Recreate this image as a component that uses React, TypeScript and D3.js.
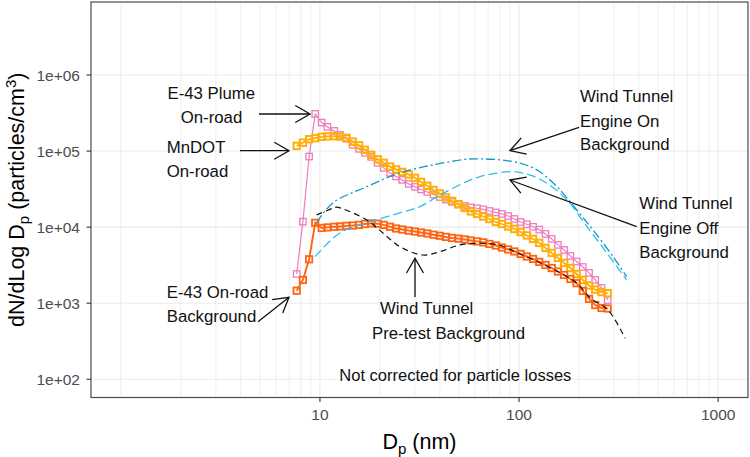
import React from 'react';
import * as d3 from 'd3';

// ---------- data ----------
const diameters = [7.64, 8.21, 8.82, 9.47, 10.2, 10.9, 11.8, 12.6, 13.6, 14.6, 15.7, 16.8, 18.1, 19.5, 20.9, 22.5, 24.1, 25.9, 27.9, 30.0, 32.2, 34.6, 37.2, 40.0, 42.9, 46.1, 49.6, 53.3, 57.3, 61.5, 66.1, 71.0, 76.4, 82.0, 88.2, 94.7, 101.8, 109.4, 117.6, 126.3, 135.8, 145.9, 156.8, 168.5, 181.1, 194.6, 209.1, 224.7, 241.4, 259.5, 278.8];

const plumeOnRoad = [2420, 11800, 84700, 308000, 237000, 208000, 184000, 163000, 145000, 121000, 107000, 94700, 83900, 70000, 60100, 51600, 46400, 41800, 37000, 33800, 31300, 29000, 26900, 24900, 23000, 21500, 20200, 19000, 18200, 17700, 17100, 16300, 15600, 14900, 14000, 12800, 11700, 10900, 10100, 9270, 8140, 7000, 5840, 5010, 4180, 3540, 2990, 2500, 2020, 1590, 1100];

const mndotOnRoad = [117000, 129000, 143000, 148000, 154000, 156000, 157000, 155000, 149000, 133000, 119000, 104000, 89100, 77800, 70000, 62500, 57400, 53200, 49300, 44400, 39300, 34900, 30800, 27700, 24600, 22100, 19900, 17900, 16100, 14900, 13800, 12800, 11700, 11000, 10200, 9460, 8640, 7780, 7000, 6200, 5330, 4580, 3930, 3380, 2900, 2420, 2020, 1710, 1510, 1400, 1350];

const e43Background = [1460, 2020, 3780, 11400, 9750, 9910, 10100, 10200, 10400, 10500, 10700, 11000, 11200, 11100, 10700, 10100, 9600, 9300, 9000, 8750, 8500, 8250, 7950, 7700, 7430, 7210, 7060, 6890, 6680, 6490, 6300, 6010, 5740, 5400, 5090, 4790, 4440, 4110, 3820, 3490, 3180, 2900, 2610, 2350, 2080, 1830, 1450, 1140, 946, 865, 852];

const engineOnD = [9.62, 11.6, 17.2, 25.2, 37.0, 54.6, 63.7, 80.3, 101, 123, 155, 195, 235, 297, 347];
const engineOnV = [11400, 20800, 34100, 51600, 65800, 78200, 79000, 76600, 69300, 56600, 34100, 16800, 9180, 4090, 2230];

const engineOffD = [9.44, 12.6, 17.2, 25.2, 31.8, 40.1, 54.6, 63.7, 77.2, 93.3, 113, 138, 174, 219, 276, 347];
const engineOffV = [4090, 8390, 11400, 15400, 18600, 26500, 39700, 46200, 51200, 53700, 48600, 37800, 22800, 10200, 4580, 2020];

const pretestD = [9.62, 11.6, 12.1, 17.2, 20.7, 25.2, 32.9, 40.1, 50.5, 63.7, 78.4, 101, 128, 161, 195, 228, 280, 341];
const pretestV = [14500, 17700, 18300, 12400, 8390, 5530, 4300, 4760, 5840, 6140, 5840, 4440, 3380, 2500, 1840, 1170, 814, 345];

const xTicks = [10, 100, 1000];
const xTickLabels = ['10', '100', '1000'];
const yTicks = [1e2, 1e3, 1e4, 1e5, 1e6];
const yTickLabels = ['1e+02', '1e+03', '1e+04', '1e+05', '1e+06'];

const FONT = "'Liberation Sans', Arial, Helvetica, sans-serif";

export default function App() {
  const W = 750, H = 457;
  const left = 91, right = 748, top = 2, bottom = 397.5;
  const x = d3.scaleLog().domain([Math.pow(10, -0.15), Math.pow(10, 3.15)]).range([left, right]);
  const y = d3.scaleLog().domain([Math.pow(10, 1.76), Math.pow(10, 6.96)]).range([bottom, top]);

  const minorX = x.ticks().filter((t) => t >= 1 && t <= 1000);

  const lineGen = d3.line<[number, number]>().x((d) => x(d[0])).y((d) => y(d[1]));
  const smoothGen = d3
    .line<[number, number]>()
    .x((d) => x(d[0]))
    .y((d) => y(d[1]))
    .curve(d3.curveCatmullRom.alpha(0.5));

  const zip = (a: number[], b: number[]) => a.map((v, i) => [v, b[i]] as [number, number]);

  const squareSeries = [
    { vals: plumeOnRoad, color: '#EE7DBE', lw: 1.2, mw: 1.3 },
    { vals: mndotOnRoad, color: '#FFAE0A', lw: 1.8, mw: 2 },
    { vals: e43Background, color: '#FF6412', lw: 1.9, mw: 1.8 },
  ];

  const dashSeries = [
    { d: engineOffD, v: engineOffV, color: '#2DBDEE', dash: '9,4', lw: 1.3 },
    { d: engineOnD, v: engineOnV, color: '#0E96CF', dash: '9,3,2,3', lw: 1.3 },
    { d: pretestD, v: pretestV, color: '#111111', dash: '6,4', lw: 1.2 },
  ];

  const ms = 6.4;

  const arrows: { x1: number; y1: number; x2: number; y2: number }[] = [
    { x1: 259, y1: 114, x2: 310, y2: 114 },
    { x1: 240, y1: 150.7, x2: 289, y2: 150.7 },
    { x1: 258, y1: 321.7, x2: 289, y2: 297.3 },
    { x1: 579, y1: 127.3, x2: 510, y2: 150.7 },
    { x1: 636.7, y1: 226.7, x2: 510, y2: 180 },
    { x1: 415, y1: 297, x2: 415, y2: 258.3 },
  ];

  const arrowHead = (a: { x1: number; y1: number; x2: number; y2: number }) => {
    const ang = Math.atan2(a.y2 - a.y1, a.x2 - a.x1);
    const L = 17;
    const sp = Math.PI / 6;
    const p1 = [a.x2 - L * Math.cos(ang - sp), a.y2 - L * Math.sin(ang - sp)];
    const p2 = [a.x2 - L * Math.cos(ang + sp), a.y2 - L * Math.sin(ang + sp)];
    return `M${p1[0]},${p1[1]}L${a.x2},${a.y2}L${p2[0]},${p2[1]}`;
  };

  const labels: { t: string; x: number; y: number }[] = [
    { t: 'E-43 Plume', x: 167.5, y: 98.5 },
    { t: 'On-road', x: 180.7, y: 122.7 },
    { t: 'MnDOT', x: 166.7, y: 153.3 },
    { t: 'On-road', x: 166.7, y: 176.7 },
    { t: 'E-43 On-road', x: 166.7, y: 298 },
    { t: 'Background', x: 166.7, y: 321.5 },
    { t: 'Wind Tunnel', x: 580, y: 102 },
    { t: 'Engine On', x: 580, y: 127 },
    { t: 'Background', x: 580, y: 150 },
    { t: 'Wind Tunnel', x: 639.3, y: 209 },
    { t: 'Engine Off', x: 639.3, y: 233.5 },
    { t: 'Background', x: 639.3, y: 258 },
    { t: 'Wind Tunnel', x: 380, y: 314 },
    { t: 'Pre-test Background', x: 372, y: 338.5 },
  ];

  return (
    <svg
      width={W}
      height={H}
      style={{ position: 'absolute', left: 0, top: 0, display: 'block', background: '#fff' }}
      fontFamily={FONT}
    >
      <rect x={0} y={0} width={W} height={H} fill="#fff" />
      <g>
        {minorX.map((t, i) => (
          <line key={'mx' + i} x1={x(t)} x2={x(t)} y1={top} y2={bottom} stroke="#EBEBEB" strokeWidth={xTicks.includes(t) ? 1.1 : 0.8} />
        ))}
        {yTicks.map((t, i) => (
          <line key={'gy' + i} x1={left} x2={right} y1={y(t)} y2={y(t)} stroke="#EBEBEB" strokeWidth={1.1} />
        ))}
      </g>

      <defs>
        <clipPath id="panel">
          <rect x={left} y={top} width={right - left} height={bottom - top} />
        </clipPath>
      </defs>

      <g clipPath="url(#panel)">
        {squareSeries.map((s, si) => {
          const pts = zip(diameters, s.vals);
          return (
            <g key={'sq' + si}>
              <path d={lineGen(pts) || ''} fill="none" stroke={s.color} strokeWidth={s.lw} />
              {pts.map((p, i) => (
                <rect
                  key={i}
                  x={x(p[0]) - ms / 2}
                  y={y(p[1]) - ms / 2}
                  width={ms}
                  height={ms}
                  fill="none"
                  stroke={s.color}
                  strokeWidth={s.mw}
                />
              ))}
            </g>
          );
        })}
        {dashSeries.map((s, si) => (
          <path
            key={'ds' + si}
            d={smoothGen(zip(s.d, s.v)) || ''}
            fill="none"
            stroke={s.color}
            strokeWidth={s.lw}
            strokeDasharray={s.dash}
          />
        ))}
      </g>

      <rect x={left} y={top} width={right - left} height={bottom - top} fill="none" stroke="#4a4a4a" strokeWidth={1.2} />

      {yTicks.map((t, i) => (
        <g key={'yt' + i}>
          <line x1={left - 4.5} x2={left} y1={y(t)} y2={y(t)} stroke="#333" strokeWidth={1.1} />
          <text x={80} y={y(t)} textAnchor="end" dominantBaseline="central" fontSize={15.5} fill="#4D4D4D">
            {yTickLabels[i]}
          </text>
        </g>
      ))}
      {xTicks.map((t, i) => (
        <g key={'xt' + i}>
          <line x1={x(t)} x2={x(t)} y1={bottom} y2={bottom + 4.5} stroke="#333" strokeWidth={1.1} />
          <text x={x(t)} y={420} textAnchor="middle" fontSize={15.5} fill="#4D4D4D">
            {xTickLabels[i]}
          </text>
        </g>
      ))}

      <text x={(left + right) / 2} y={449} textAnchor="middle" fontSize={21.5} fill="#000">
        <tspan>D</tspan>
        <tspan dy={5} fontSize={15}>p</tspan>
        <tspan dy={-5}> (nm)</tspan>
      </text>
      <text
        transform={`translate(24,${(top + bottom) / 2}) rotate(-90)`}
        textAnchor="middle"
        fontSize={21.5}
        fill="#000"
      >
        <tspan>dN/dLog D</tspan>
        <tspan dy={5} fontSize={15}>p</tspan>
        <tspan dy={-5}> (particles/cm</tspan>
        <tspan dy={-8} fontSize={15}>3</tspan>
        <tspan dy={8}>)</tspan>
      </text>

      {arrows.map((a, i) => (
        <g key={'ar' + i} stroke="#111" strokeWidth={1.3} fill="none">
          <line x1={a.x1} y1={a.y1} x2={a.x2} y2={a.y2} />
          <path d={arrowHead(a)} />
        </g>
      ))}
      {labels.map((l, i) => (
        <text key={'lb' + i} x={l.x} y={l.y} fontSize={16.8} fill="#111">
          {l.t}
        </text>
      ))}
      <text x={339.3} y={381} fontSize={16.5} fill="#111">
        Not corrected for particle losses
      </text>
    </svg>
  );
}
